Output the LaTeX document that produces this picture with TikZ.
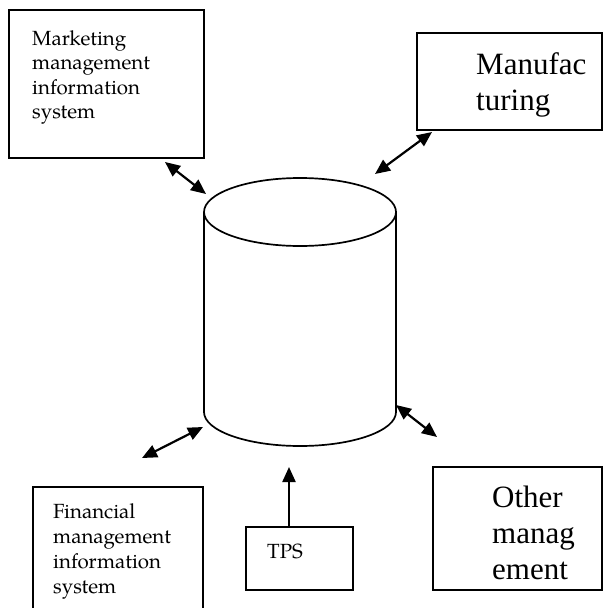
\documentclass[tikz,border=0pt]{standalone}
\usepackage{fontspec}
\setmainfont{Liberation Serif}
\newfontfamily\pal{texgyrepagella-regular.otf}
\usetikzlibrary{arrows.meta}
\tikzset{
  boxnode/.style={draw, line width=1.8pt, inner sep=0pt, outer sep=0pt},
  paltext/.style={anchor=base west, inner sep=0pt, font=\pal\fontsize{20.5}{24}\selectfont},
  bigtext/.style={anchor=base west, inner sep=0pt, font=\fontsize{31}{36}\selectfont},
  link/.style={line width=2.2pt, {Triangle[length=15pt,width=13pt]}-{Triangle[length=15pt,width=13pt]}},
  onelink/.style={line width=2.2pt, -{Triangle[length=15pt,width=13pt]}},
  cyl/.style={line width=1.7pt}
}
\begin{document}
\begin{tikzpicture}[x=1pt,y=-1pt]
\useasboundingbox[fill=white] (0,0) rectangle (603,608);
% boxes
\node[boxnode, minimum width=195pt, minimum height=148pt] (mkt) at (106.5,84) {};
\node[boxnode, minimum width=185pt, minimum height=97pt] (man) at (509.5,81.5) {};
\node[boxnode, minimum width=170pt, minimum height=133pt] (fin) at (118,553.5) {};
\node[boxnode, minimum width=169pt, minimum height=123pt] (oth) at (517.5,528.5) {};
\node[boxnode, minimum width=107pt, minimum height=63pt] (tps) at (299.5,558.5) {};
% texts
\node[paltext] (mk1) at (32,45) {Marketing};
\node[paltext] (mk2) at (32,69.5) {management};
\node[paltext] (mk3) at (32,94) {information};
\node[paltext] (mk4) at (32,118) {system};
\node[paltext] (fi1) at (53,518) {Financial};
\node[paltext] (fi2) at (53,543) {management};
\node[paltext] (fi3) at (53,568) {information};
\node[paltext] (fi4) at (53,593) {system};
\node[paltext] (tp1) at (267,558) {TPS};
\node[bigtext] (ma1) at (476,74) {Manufac};
\node[bigtext] (ma2) at (476,110) {turing};
\node[bigtext] (ot1) at (492,507) {Other};
\node[bigtext] (ot2) at (492,543) {manag};
\node[bigtext] (ot3) at (492,579) {ement};
% cylinder
\draw[cyl] (300,212) ellipse [x radius=96pt, y radius=34pt];
\draw[cyl] (204,212) -- (204,412) arc[start angle=180, end angle=360, x radius=96pt, y radius=34pt] -- (396,212);
% arrow end points
\coordinate (a1s) at (165,162);
\coordinate (a1e) at (206,194);
\coordinate (a2s) at (375,174);
\coordinate (a2e) at (432,132);
\coordinate (a3s) at (142,458);
\coordinate (a3e) at (203,427);
\coordinate (a4s) at (396,405);
\coordinate (a4e) at (437,437);
\coordinate (a5s) at (289,527);
\coordinate (a5e) at (289,467);
\draw[link] (a1s) -- (a1e);
\draw[link] (a2s) -- (a2e);
\draw[link] (a3s) -- (a3e);
\draw[link] (a4s) -- (a4e);
\draw[onelink] (a5s) -- (a5e);
\end{tikzpicture}
\end{document}
